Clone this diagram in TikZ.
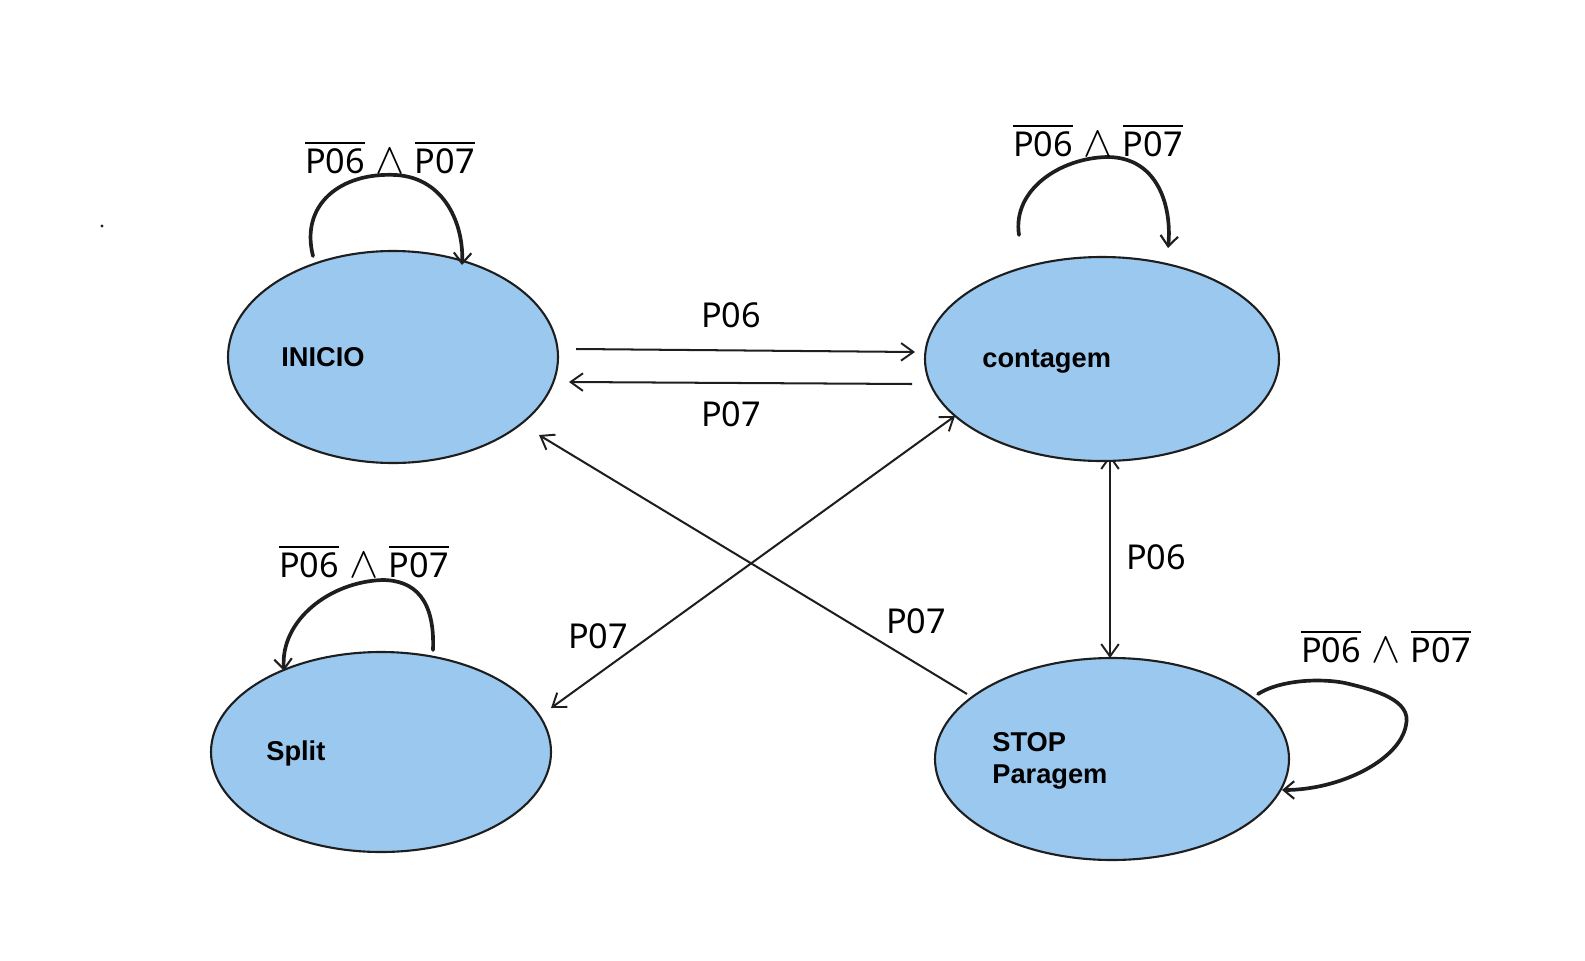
\documentclass[tikz,border=0pt]{standalone}
\usepackage{fontspec}
\setmainfont{Noto Sans}
\newfontfamily\nodefont{Liberation Sans}
\usetikzlibrary{shapes.geometric,arrows.meta}
\pgfdeclarelayer{background}
\pgfsetlayers{background,main}
\definecolor{statefill}{RGB}{154,200,238}
\definecolor{ink}{RGB}{30,30,30}
\newcommand\ovl[1]{\vbox{\hrule height 1.1pt\kern 2.6pt\hbox{#1}}}
\newcommand\cond{\ovl{P06}\hspace{0.3em}{\fontsize{25}{25}\selectfont$\wedge$}\hspace{0.3em}\ovl{P07}}
\tikzset{
  state/.style={ellipse,draw=ink,line width=1.2pt,fill=statefill,inner sep=0pt},
  stxt/.style={font=\nodefont\bfseries\fontsize{15.5}{18}\selectfont,anchor=west,align=left,inner sep=0pt},
  lbl/.style={font=\fontsize{19.5}{21}\selectfont,inner sep=0pt},
  arr/.style={draw=ink,line width=1.15pt,-{Straight Barb[length=7pt,width=10pt,line width=1.1pt]}},
  darr/.style={draw=ink,line width=1.15pt,{Straight Barb[length=7pt,width=10pt,line width=1.1pt]}-{Straight Barb[length=7pt,width=10pt,line width=1.1pt]}},
  loop/.style={draw=ink,line width=2.1pt,line cap=round,-{Straight Barb[length=6pt,width=10pt,line width=1.2pt]}}
}
\begin{document}
\begin{tikzpicture}[x=0.02cm,y=-0.02cm]
\useasboundingbox (0,0) rectangle (1585,960);
% states
\node[state,minimum width=330*0.02cm,minimum height=212*0.02cm] (inicio) at (393,357) {};
\node[state,minimum width=354*0.02cm,minimum height=204*0.02cm] (cont) at (1102,359) {};
\node[state,minimum width=340*0.02cm,minimum height=200*0.02cm] (split) at (381,752) {};
\node[state,minimum width=354*0.02cm,minimum height=202*0.02cm] (stop) at (1112,759) {};
\node[stxt] (tinicio) at (281,357) {INICIO};
\node[stxt] (tcont) at (982,361) {contagem};
\node[stxt] (tsplit) at (266,753) {Split};
\node[stxt] (tstop) at (992,761) {STOP\\Paragem};
% small dot
\fill[ink] (102,226) circle (1.6);
% connector end points
\coordinate (a1) at (576,349); \coordinate (a2) at (915,352);
\coordinate (b1) at (912,384); \coordinate (b2) at (569,382);
\coordinate (c1) at (967,694); \coordinate (c2) at (539,435);
\coordinate (d1) at (551,708); \coordinate (d2) at (955,416);
\coordinate (e1) at (1110,455); \coordinate (e2) at (1110,658);
% connectors
\draw[arr] (a1) -- (a2);
\draw[arr] (b1) -- (b2);
\draw[arr] (c1) -- (c2);
\draw[darr] (d1) -- (d2);
\begin{pgfonlayer}{background}
\draw[darr] (e1) -- (e2);
\end{pgfonlayer}
\node[lbl] (l1) at (731,315) {P06};
\node[lbl] (l2) at (731,414) {P07};
\node[lbl] (l3) at (916,621) {P07};
\node[lbl] (l4) at (598,636) {P07};
\node[lbl] (l5) at (1156,557) {P06};
% self loops
\coordinate (s1) at (313,256); \coordinate (s2) at (462,265);
\draw[loop] (s1) .. controls (300,205) and (340,172) .. (396,175) .. controls (445,178) and (464,225) .. (s2);
\coordinate (t1) at (1019,235); \coordinate (t2) at (1168,248);
\draw[loop] (t1) .. controls (1012,190) and (1060,158) .. (1107,157) .. controls (1160,157) and (1172,210) .. (t2);
\coordinate (u1) at (433,650); \coordinate (u2) at (284,671);
\draw[loop] (u1) .. controls (435,600) and (415,580) .. (382,580) .. controls (330,582) and (280,620) .. (u2);
\coordinate (v1) at (1258,694); \coordinate (v2) at (1282,790);
\draw[loop] (v1) .. controls (1280,680) and (1320,678) .. (1345,683) .. controls (1375,690) and (1412,700) .. (1406,725) .. controls (1400,760) and (1340,790) .. (v2);
\node[lbl] (c1l) at (390,158) {\cond};
\node[lbl] (c2l) at (1098,141) {\cond};
\node[lbl] (c3l) at (364,562) {\cond};
\node[lbl] (c4l) at (1386,647) {\cond};
\end{tikzpicture}
\end{document}
